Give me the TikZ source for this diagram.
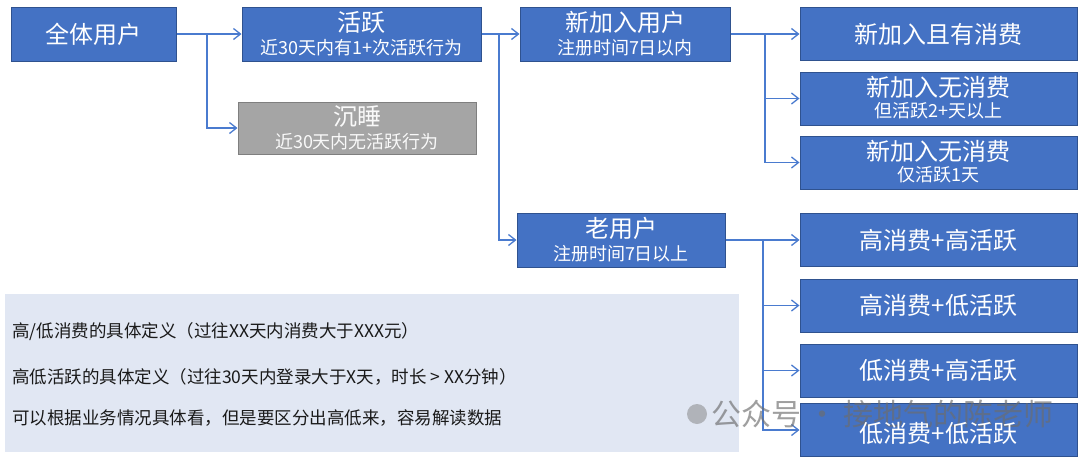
\documentclass[tikz,border=0pt]{standalone}
\usepackage{fontspec}
\setmainfont{Noto Sans CJK SC}
\usetikzlibrary{arrows.meta}
\definecolor{boxblue}{HTML}{4472C4}
\definecolor{boxedge}{HTML}{2F528F}
\definecolor{linkblue}{HTML}{4A7BCF}
\definecolor{sleepfill}{HTML}{A5A5A5}
\definecolor{sleepedge}{HTML}{7F7F7F}
\definecolor{notebg}{HTML}{E1E7F3}
\definecolor{notetext}{HTML}{1A1A1A}
\newcommand{\fsz}[1]{\fontsize{#1}{#1}\selectfont}
\begin{document}
\begin{tikzpicture}[x=1pt,y=-1pt,
  bluebox/.style={draw=boxedge, fill=boxblue, line width=1pt, inner sep=0pt},
  greybox/.style={draw=sleepedge, fill=sleepfill, line width=1pt, inner sep=0pt},
  ttl/.style={text=white, font=\fsz{24}, inner sep=0pt},
  sub/.style={text=white, font=\fsz{18}, inner sep=0pt},
  sleeptxt/.style={text=white!95!gray},
  conn/.style={draw=linkblue, line width=1.4pt, -{Straight Barb[length=7pt,width=11pt,line width=1.3pt]}},
  notetxt/.style={text=notetext, font=\fsz{17.5}, anchor=west, inner sep=0pt},
  wmark/.style={text=gray!85!black, opacity=0.65, font=\fsz{30}, anchor=west, inner sep=0pt}]
\useasboundingbox (0,0) rectangle (1080,461);
\fill[white] (0,0) rectangle (1080,461);

% note panel
\fill[notebg] (5,294) rectangle (739,452);
\node[notetxt] (l1) at (12,332) {高/低消费的具体定义（过往XX天内消费大于XXX元）};
\node[notetxt] (l2) at (12,377) {高低活跃的具体定义（过往30天内登录大于X天，时长 > XX分钟）};
\node[notetxt] (l3) at (12,418) {可以根据业务情况具体看，但是要区分出高低来，容易解读数据};

% boxes
\node[bluebox, minimum width=165pt, minimum height=54pt] (all) at (93.5,34) {};
\node[ttl] (allt) at (all) {全体用户};

\node[bluebox, minimum width=239pt, minimum height=54pt] (act) at (361.5,34) {};
\node[ttl] (actt) at (361.5,22) {活跃};
\node[sub] (acts) at (361.5,48) {近30天内有1+次活跃行为};

\node[greybox, minimum width=238pt, minimum height=52pt] (sleep) at (357,128) {};
\node[ttl, sleeptxt] (sleept) at (357,117) {沉睡};
\node[sub, sleeptxt] (sleeps) at (357,141.5) {近30天内无活跃行为};

\node[bluebox, minimum width=210pt, minimum height=54pt] (new) at (625,34) {};
\node[ttl] (newt) at (625,22) {新加入用户};
\node[sub] (news) at (625,48) {注册时间7日以内};

\node[bluebox, minimum width=208pt, minimum height=54pt] (old) at (621,240) {};
\node[ttl] (oldt) at (621,228) {老用户};
\node[sub] (olds) at (621,254) {注册时间7日以上};

\node[bluebox, minimum width=277pt, minimum height=53pt] (n1) at (938.5,34) {};
\node[ttl] (n1t) at (n1) {新加入且有消费};

\node[bluebox, minimum width=277pt, minimum height=53pt] (n2) at (938.5,98.5) {};
\node[ttl] (n2t) at (938.5,87) {新加入无消费};
\node[sub] (n2s) at (938.5,111) {但活跃2+天以上};

\node[bluebox, minimum width=277pt, minimum height=53pt] (n3) at (938.5,162.5) {};
\node[ttl] (n3t) at (938.5,151) {新加入无消费};
\node[sub] (n3s) at (938.5,175) {仅活跃1天};

\node[bluebox, minimum width=277pt, minimum height=53pt] (o1) at (938.5,240) {};
\node[ttl] (o1t) at (o1) {高消费+高活跃};
\node[bluebox, minimum width=277pt, minimum height=53pt] (o2) at (938.5,305.5) {};
\node[ttl] (o2t) at (o2) {高消费+低活跃};
\node[bluebox, minimum width=277pt, minimum height=53pt] (o3) at (938.5,370.5) {};
\node[ttl] (o3t) at (o3) {低消费+高活跃};
\node[bluebox, minimum width=277pt, minimum height=53pt] (o4) at (938.5,430) {};

% connectors
\coordinate (j1) at (207,34);
\draw[conn] (all.east) -- (act.west);
\draw[conn] (j1) |- (sleep.west);

\coordinate (j2) at (499,34);
\draw[conn] (act.east) -- (new.west);
\draw[conn] (j2) |- (old.west);

\coordinate (j3) at (765,34);
\draw[conn] (new.east) -- (n1.west);
\draw[conn] (j3) |- (n2.west);
\draw[conn] (j3) |- (n3.west);

\coordinate (j4) at (763,240);
\draw[conn] (old.east) -- (o1.west);
\draw[conn] (j4) |- (o2.west);
\draw[conn] (j4) |- (o3.west);
\draw[conn] (j4) |- (o4.west);

% watermark
\node[circle, fill=gray, opacity=0.5, minimum size=20pt, inner sep=0pt] (wmicon) at (697,414) {};
\node[wmark] (wm) at (711,414) {公众号\hspace{6pt}·\hspace{6pt}接地气的陈老师};
\node[ttl] (o4t) at (938.5,433) {低消费+低活跃};
\end{tikzpicture}
\end{document}
